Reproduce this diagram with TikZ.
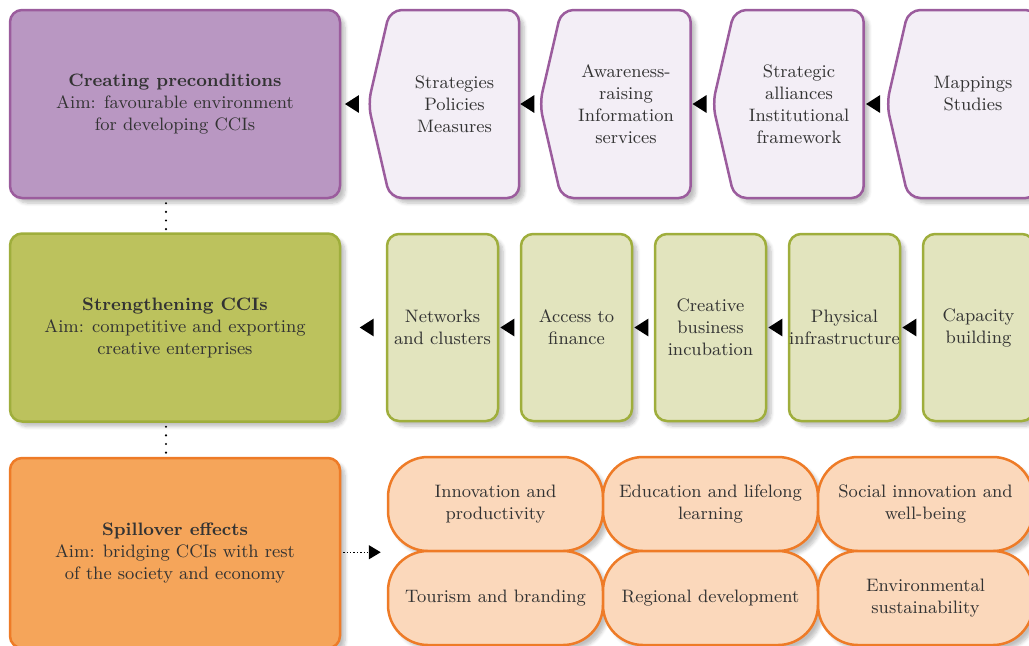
\documentclass[tikz,border=0pt]{standalone}
\usepackage{xcolor}
\usetikzlibrary{shapes.symbols,shapes.geometric,shadows.blur,arrows.meta}

\definecolor{inkgray}{HTML}{333333}
\definecolor{prefill}{HTML}{B997C2}
\definecolor{preline}{HTML}{9B5C9D}
\definecolor{prelight}{HTML}{F3EEF6}
\definecolor{strfill}{HTML}{BCC25D}
\definecolor{strline}{HTML}{9FAE3C}
\definecolor{strlight}{HTML}{E2E4BE}
\definecolor{spillfill}{HTML}{F5A55A}
\definecolor{spillline}{HTML}{EE7B27}
\definecolor{spilllight}{HTML}{FBD8BB}

\tikzset{
  softshadow/.style={blur shadow={shadow xshift=2.5pt, shadow yshift=-2.5pt, shadow blur steps=6, shadow opacity=25}},
  stagebox/.style={rectangle, rounded corners=6pt, line width=1.25pt, minimum width=165pt, minimum height=94pt, align=center, softshadow},
  stepsig/.style={signal, signal to=west, signal from=nowhere, signal pointer angle=154, rounded corners=6pt, line width=1.25pt, fill=prelight, draw=preline, minimum width=75.5pt, minimum height=94pt, inner sep=0pt, align=center, softshadow},
  toolbox/.style={rectangle, rounded corners=6pt, line width=1.25pt, fill=strlight, draw=strline, minimum width=55.5pt, minimum height=93.5pt, inner sep=0pt, align=center, softshadow},
  effectbox/.style={rectangle, rounded corners=20pt, line width=1.25pt, fill=spilllight, draw=spillline, minimum width=107.5pt, minimum height=47pt, inner sep=0pt, align=center, softshadow},
  pointer/.style={isosceles triangle, isosceles triangle apex angle=65, shape border rotate=180, fill=black, inner sep=0pt, minimum size=7pt},
  dotlink/.style={line width=1.2pt, dash pattern=on 0pt off 4.3pt, line cap=round, shorten <=2pt, shorten >=1.5pt},
  flowlink/.style={densely dotted, line width=0.7pt, -{Triangle[length=6pt,width=7pt]}, shorten <=1pt, shorten >=3pt}
}

\begin{document}
\begin{tikzpicture}[x=0.5pt, y=-0.5pt, font=\fontsize{9}{11}\selectfont, text=inkgray]
  \useasboundingbox (0, 0) rectangle (1029, 645);
  \clip (0, 0) rectangle (1029, 645);

  % three stages on the left
  \node [stagebox, fill=prefill, draw=preline] (pre) at (175, 104) {\textbf{Creating preconditions}\\Aim: favourable environment\\for developing CCIs};
  \node [stagebox, fill=strfill, draw=strline] (str) at (175, 327.5) {\textbf{Strengthening CCIs}\\Aim: competitive and exporting\\creative enterprises};
  \node [stagebox, fill=spillfill, draw=spillline, minimum height=95pt] (spill) at (175, 553) {\textbf{Spillover effects}\\Aim: bridging CCIs with rest\\of the society and economy};

  \draw [dotlink] ([xshift=-4.5pt]pre.south) -- ([xshift=-4.5pt]str.north);
  \draw [dotlink] ([xshift=-4.5pt]str.south) -- ([xshift=-4.5pt]spill.north);

  % preconditions
  \node [stepsig] (strat) at (454.5, 104) {Strategies\\Policies\\Measures};
  \node [stepsig] (aware) at (626, 104) {Awareness-\\raising\\Information\\services};
  \node [stepsig] (alli) at (799, 104) {Strategic\\alliances\\Institutional\\framework};
  \node [stepsig] (maps) at (973, 104) {Mappings\\Studies\\~};

  \path (strat.west) -- node [pointer] {} (pre.east);
  \path (aware.west) -- node [pointer] {} (strat.east);
  \path (alli.west) -- node [pointer] {} (aware.east);
  \path (maps.west) -- node [pointer] {} (alli.east);

  % strengthening
  \node [toolbox] (netw) at (442.5, 327.5) {Networks\\and clusters};
  \node [toolbox] (fin) at (576.5, 327.5) {Access to\\finance};
  \node [toolbox] (incu) at (710.5, 327.5) {Creative\\business\\incubation};
  \node [toolbox] (infra) at (844.5, 327.5) {Physical\\infrastructure};
  \node [toolbox] (capa) at (978.5, 327.5) {Capacity\\building};

  \path (netw.west) -- node [pointer, pos=0.38] {} (str.east);
  \path (fin.west) -- node [pointer] {} (netw.east);
  \path (incu.west) -- node [pointer] {} (fin.east);
  \path (infra.west) -- node [pointer] {} (incu.east);
  \path (capa.west) -- node [pointer] {} (infra.east);

  % spillovers
  \node [effectbox] (inno) at (495.5, 504) {Innovation and\\productivity};
  \node [effectbox] (edu) at (710.5, 504) {Education and lifelong\\learning};
  \node [effectbox] (soc) at (925.5, 504) {Social innovation and\\well-being};
  \node [effectbox] (tour) at (495.5, 598) {Tourism and branding};
  \node [effectbox] (regio) at (710.5, 598) {Regional development};
  \node [effectbox] (envi) at (925.5, 598) {Environmental\\sustainability};

  \draw [flowlink] (spill.east |- inno.south west) -- (inno.south west);
\end{tikzpicture}
\end{document}
